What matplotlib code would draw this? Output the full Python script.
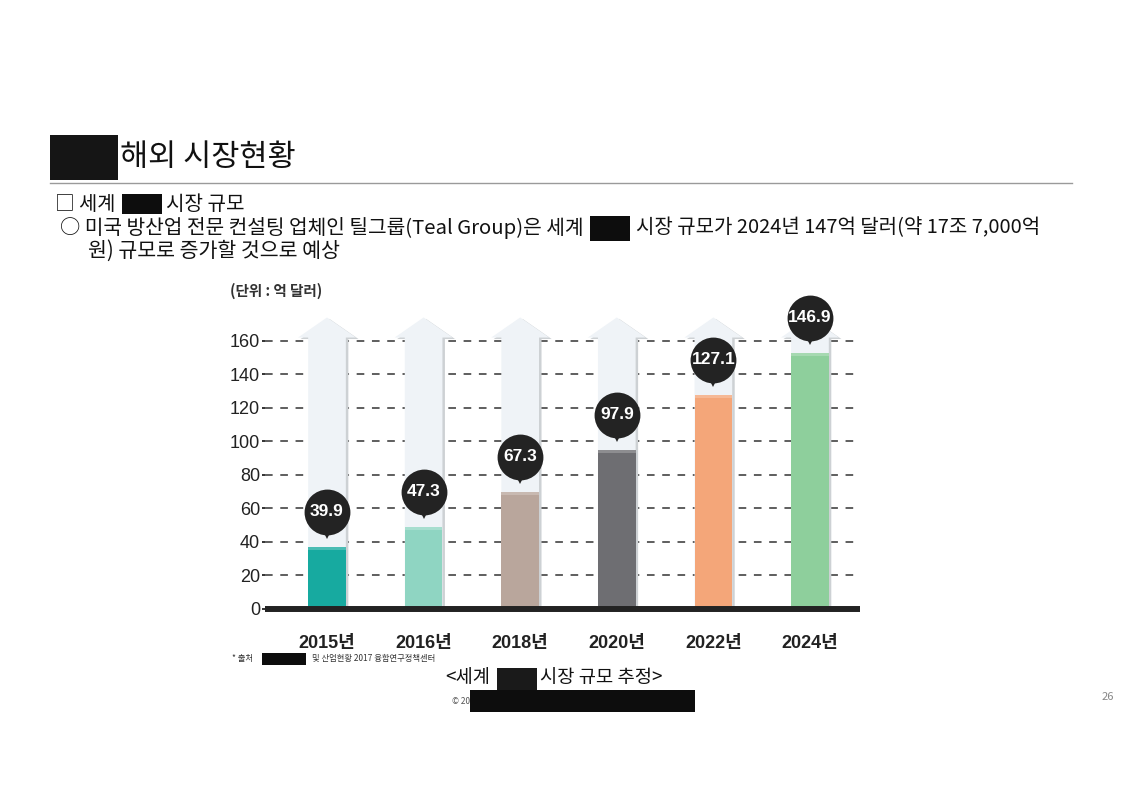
import matplotlib
matplotlib.use('Agg')
import matplotlib.pyplot as plt
from matplotlib.patches import Rectangle, Polygon
from matplotlib.transforms import ScaledTranslation
from matplotlib.lines import Line2D

# ---- data ----
years = ['2015년', '2016년', '2018년', '2020년', '2022년', '2024년']
market_values = [39.9, 47.3, 67.3, 97.9, 127.1, 146.9]   # labelled values (억 달러)
bar_heights = [37, 49, 70, 95, 128, 153]                 # bar heights as drawn in the picture
y_ticks = [0, 20, 40, 60, 80, 100, 120, 140, 160]

# ---- styles ----
bar_colors = ['#17aaa0', '#8fd5c2', '#b9a69c', '#6e6e72', '#f4a679', '#8ecf9c']
KR = ['Noto Sans CJK KR', 'DejaVu Sans']
NUM = ['Liberation Sans', 'Noto Sans CJK KR', 'DejaVu Sans']

W, H = 1123, 794
fig = plt.figure(figsize=(W / 100, H / 100), dpi=100)
fig.patch.set_facecolor('white')


def ft(x, y, s, **kw):
    kw.setdefault('va', 'center')
    kw.setdefault('family', KR)
    kw.setdefault('color', '#111111')
    fig.text(x / W, 1 - y / H, s, **kw)


def box(x0, y0, x1, y1, color='#0d0d0d'):
    fig.add_artist(Rectangle((x0 / W, 1 - y1 / H), (x1 - x0) / W, (y1 - y0) / H,
                             transform=fig.transFigure, color=color, lw=0))


# ---- header ----
box(50, 135, 118, 180, '#151515')
ft(120, 157, '해외 시장현황', fontsize=22)
fig.add_artist(Line2D([50 / W, 1072 / W], [1 - 183 / H] * 2, color='#9a9a9a', lw=1,
                      transform=fig.transFigure))
ft(55, 204, '□ 세계', fontsize=14.2)
box(122, 194, 162, 214)
ft(166, 204, '시장 규모', fontsize=14.5)
ft(60, 228, '○ 미국 방산업 전문 컨설팅 업체인 틸그룹(Teal Group)은 세계', fontsize=14.6)
box(590, 216, 630, 241)
ft(636, 228, '시장 규모가 2024년 147억 달러(약 17조 7,000억', fontsize=14.4)
ft(88, 251, '원) 규모로 증가할 것으로 예상', fontsize=14.8)

# ---- chart ----
ax = fig.add_axes([265 / W, 1 - 614 / H, (860 - 265) / W, (614 - 299) / H])
ax.set_xlim(-0.642, 5.518)
ax.set_ylim(-3, 185)
for s in ax.spines.values():
    s.set_visible(False)
ax.patch.set_alpha(0)

x = list(range(len(years)))

# dashed grid
for t in y_ticks[1:]:
    ax.plot([-0.642, 5.518], [t, t], color='#333333', lw=1.1, dashes=(5, 5), zorder=1)

# background arrows
sw, hw, shaft_top, tip = 0.195, 0.30, 162, 174
px_x = 1 / 96.6
px_y = 1 / 1.675
for i in x:
    pts = [(i - sw, 0), (i - sw, shaft_top), (i - hw, shaft_top), (i, tip),
           (i + hw, shaft_top), (i + sw, shaft_top), (i + sw, 0)]
    shadow = [(a + 2.5 * px_x, b - 1.5 * px_y) for a, b in pts]
    ax.add_patch(Polygon(shadow, closed=True, color='#cdd1d4', lw=0, zorder=2))
    ax.add_patch(Polygon(pts, closed=True, color='#eff3f7', lw=0, zorder=2.1))

# bars
ax.bar(x, bar_heights, width=0.39, color=bar_colors, zorder=3, lw=0)
ax.bar(x, [2] * len(x), bottom=[h - 2 for h in bar_heights], width=0.39,
       color='white', alpha=0.22, zorder=3.1, lw=0)

# baseline
ax.axhline(0, color='#232323', lw=4.3, zorder=5)

# bubbles
trans_c = ax.transData + ScaledTranslation(0, 0.35, fig.dpi_scale_trans)
trans_t = ax.transData + ScaledTranslation(0, 0.155, fig.dpi_scale_trans)
for i, h, v in zip(x, bar_heights, market_values):
    ax.plot(i, h, marker='v', ms=12, color='#232323', mew=0, transform=trans_t,
            zorder=6, clip_on=False)
    ax.plot(i, h, marker='o', ms=33, color='#232323', mew=0, transform=trans_c,
            zorder=6, clip_on=False)
    ax.text(i, h, f'{v:.1f}', transform=trans_c, ha='center', va='center',
            color='white', fontsize=12.5, fontweight='bold', family=NUM, zorder=7)

ax.set_yticks(y_ticks)
ax.set_yticklabels([str(t) for t in y_ticks], fontsize=13, color='#222222', family=NUM)
ax.tick_params(axis='y', length=2.5, width=1.4, color='#333333', pad=1)
ax.set_xticks(x)
ax.set_xticklabels(years, fontsize=13, fontweight='bold', color='#222222', family=NUM)
ax.tick_params(axis='x', length=0, pad=15)

ft(230, 291, '(단위 : 억 달러)', fontsize=10.5, fontweight='bold', color='#333333')

# ---- footer ----
ft(232, 659, '* 출처', fontsize=6, color='#333333')
box(262, 653, 306, 665)
ft(312, 659, '및 산업현황 2017 융합연구정책센터', fontsize=6, color='#333333')
ft(445, 678, '<세계', fontsize=13.5)
box(497, 668, 537, 692, '#1a1a1a')
ft(540, 678, '시장 규모 추정>', fontsize=13.5)
ft(452, 702, '© 20', fontsize=6, color='#555555')
box(470, 690, 695, 712)
ft(1102, 697, '26', fontsize=8, color='#888888')

fig.savefig('out.png', dpi=100)
